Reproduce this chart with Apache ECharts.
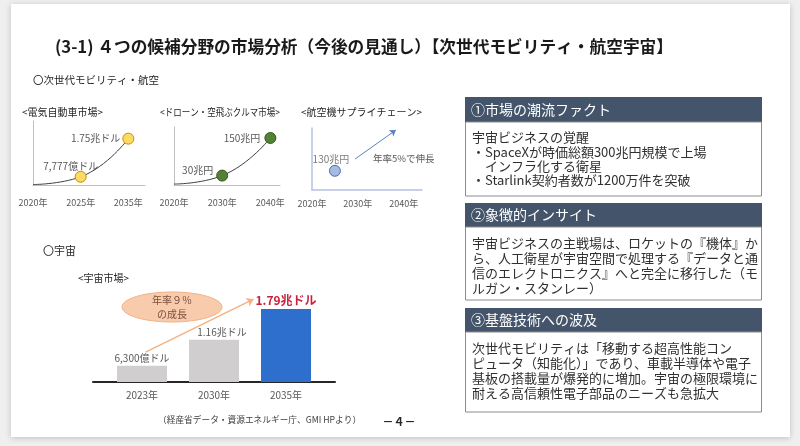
<!DOCTYPE html>
<html><head><meta charset="utf-8">
<script src="https://cdn.jsdelivr.net/npm/echarts@6/dist/echarts.min.js"></script>
<style>html,body{margin:0;padding:0;background:#efefef}#c{width:800px;height:446px}</style>
</head><body><div id="c"></div>
<script>
const FONT = '"Noto Sans CJK JP","Noto Sans",sans-serif';

// ---- data ----
const evCats = ['2020年', '2025年', '2035年'];
const evValues = [0.58, 0.7777, 1.75];          // 兆ドル
const evLabels = ['', '7,777億ドル', '1.75兆ドル'];

const droneCats = ['2020年', '2030年', '2040年'];
const droneValues = [3, 30, 150];               // 兆円
const droneLabels = ['', '30兆円', '150兆円'];

const airTicks = [2020, 2030, 2040];
const airPoint = [2025, 130];                   // 兆円
const airLabel = '130兆円';
const airArrow = [[2029.4, 210], [2038.3, 406]];
const airArrowText = '年率5%で伸長';

const spaceCats = ['2023年', '2030年', '2035年'];
const spaceValues = [0.63, 1.16, 1.79];         // 兆ドル
const spaceLabels = ['6,300億ドル', '1.16兆ドル', '1.79兆ドル'];
const spaceArrow = [[0.55, 0.91], [2.05, 1.99]];

const titleText = '(3-1) ４つの候補分野の市場分析（今後の見通し）【次世代モビリティ・航空宇宙】';
const box1Title = '①市場の潮流ファクト';
const box1Lines = ['宇宙ビジネスの覚醒', '・SpaceXが時価総額300兆円規模で上場', '　インフラ化する衛星', '・Starlink契約者数が1200万件を突破'];
const box2Title = '②象徴的インサイト';
const box2Lines = ['宇宙ビジネスの主戦場は、ロケットの『機体』か', 'ら、人工衛星が宇宙空間で処理する『データと通', '信のエレクトロニクス』へと完全に移行した（モ', 'ルガン・スタンレー）'];
const box3Title = '③基盤技術への波及';
const box3Lines = ['次世代モビリティは「移動する超高性能コン', 'ピュータ（知能化）」であり、車載半導体や電子', '基板の搭載量が爆発的に増加。宇宙の極限環境に', '耐える高信頼性電子部品のニーズも急拡大'];

// ---- helpers ----
function txt(text, x, y, size, opt) {
  opt = opt || {};
  return {
    type: 'text', x: x, y: y, z: 20, silent: true, scaleX: opt.scaleX || 1,
    style: {
      text: text, fill: opt.fill || '#262626', fontSize: size,
      fontWeight: opt.bold ? 'bold' : 'normal', fontFamily: FONT,
      align: opt.align || 'left', verticalAlign: 'middle'
    }
  };
}
function box(title, lines, hy, by, bh, lys) {
  const els = [
    { type: 'rect', z: 5, silent: true, shape: { x: 465, y: hy, width: 297, height: by - hy }, style: { fill: '#44546a' } },
    { type: 'rect', z: 5, silent: true, shape: { x: 465.5, y: by, width: 296, height: bh }, style: { fill: '#fff', stroke: '#8c8c8c', lineWidth: 1 } },
    txt(title, 471, (hy + by) / 2, 14, { fill: '#ffffff' })
  ];
  lines.forEach((l, i) => els.push(txt(l, 472, lys[i], 13, { fill: '#303030' })));
  return els;
}
function catFmt(cats) {
  return function (v) { return Number.isInteger(v) && cats[v] ? cats[v] : ''; };
}
const miniAxisLabel = { color: '#595959', fontSize: 9, fontFamily: FONT };

const graphics = [
  { type: 'rect', z: -10, silent: true, shape: { x: 11, y: 4, width: 779, height: 433 },
    style: { fill: '#ffffff', shadowBlur: 6, shadowColor: 'rgba(0,0,0,0.2)', shadowOffsetY: 1 } },
  txt(titleText, 55, 47, 16.7, { bold: true, fill: '#1a1a1a' }),
  txt('〇次世代モビリティ・航空', 33, 80, 10.5),
  txt('<電気自動車市場>', 22, 112, 10),
  txt('<ドローン・空飛ぶクルマ市場>', 160, 112, 10, { scaleX: 0.85 }),
  txt('<航空機サプライチェーン>', 301, 112, 10),
  txt(airArrowText, 373, 158, 9.5, { fill: '#595959' }),
  txt('〇宇宙', 43, 251, 11),
  txt('<宇宙市場>', 78, 278, 10),
  { type: 'ellipse', z: 10, silent: true, shape: { cx: 172, cy: 307, rx: 50, ry: 15 },
    style: { fill: '#f8cbad', stroke: '#f4b183', lineWidth: 1 } },
  txt('年率９％', 172, 300, 10, { align: 'center', fill: '#7b4f3a' }),
  txt('の成長', 172, 314, 10, { align: 'center', fill: '#7b4f3a' }),
  txt('（経産省データ・資源エネルギー庁、GMI HPより）', 158, 420, 8.7, { fill: '#404040' }),
  txt('－４－', 399, 422, 11, { align: 'center', bold: true, fill: '#262626' })
].concat(
  box(box1Title, box1Lines, 97, 122, 74, [137.5, 152.5, 166, 180]),
  box(box2Title, box2Lines, 203, 227, 73, [243, 258, 273, 288]),
  box(box3Title, box3Lines, 308, 332, 80, [348, 363, 378, 393])
);

const noSplit = { show: false };
const option = {
  animation: false,
  textStyle: { fontFamily: FONT },
  graphic: graphics,
  grid: [
    { left: 33, top: 121, width: 112, height: 64.7, outerBoundsMode: 'none' },
    { left: 174, top: 127, width: 106, height: 58, outerBoundsMode: 'none' },
    { left: 312, top: 128, width: 110, height: 62, outerBoundsMode: 'none' },
    { left: 106, top: 298.7, width: 216, height: 83.3, outerBoundsMode: 'none' },
    { left: 93, top: 298.7, width: 242, height: 83.3, outerBoundsMode: 'none' }
  ],
  xAxis: [
    { gridIndex: 0, type: 'value', min: 0, max: 2.35, interval: 1, splitLine: noSplit, axisTick: { show: false },
      axisLine: { show: true, lineStyle: { color: '#bfbfbf' } },
      axisLabel: Object.assign({ margin: 12, formatter: catFmt(evCats) }, miniAxisLabel) },
    { gridIndex: 1, type: 'value', min: 0, max: 2.2, interval: 1, splitLine: noSplit, axisTick: { show: false },
      axisLine: { show: true, lineStyle: { color: '#bfbfbf' } },
      axisLabel: Object.assign({ margin: 13, formatter: catFmt(droneCats) }, miniAxisLabel) },
    { gridIndex: 2, type: 'value', min: 2020, max: 2044, interval: 10, splitLine: noSplit, axisTick: { show: false },
      axisLine: { show: true, lineStyle: { color: '#b4c2e0', width: 1.5 } },
      axisLabel: Object.assign({ margin: 9, formatter: v => airTicks.indexOf(v) >= 0 ? v + '年' : '' }, miniAxisLabel) },
    { gridIndex: 3, type: 'category', data: spaceCats, axisLine: { show: false }, axisTick: { show: false },
      axisLabel: { color: '#595959', fontSize: 10, margin: 8, fontFamily: FONT } },
    { gridIndex: 3, type: 'value', min: 0, max: 3, show: false },
    { gridIndex: 4, type: 'category', data: spaceCats, axisTick: { show: false }, axisLabel: { show: false },
      axisLine: { show: true, lineStyle: { color: '#262626', width: 2 } } }
  ],
  yAxis: [
    { gridIndex: 0, type: 'value', min: 0.55, max: 2.2, splitLine: noSplit, axisLabel: { show: false }, axisTick: { show: false },
      axisLine: { show: true, lineStyle: { color: '#bfbfbf' } } },
    { gridIndex: 1, type: 'value', min: 0, max: 185, splitLine: noSplit, axisLabel: { show: false }, axisTick: { show: false },
      axisLine: { show: true, lineStyle: { color: '#bfbfbf' } } },
    { gridIndex: 2, type: 'value', min: 0, max: 420, splitLine: noSplit, axisLabel: { show: false }, axisTick: { show: false },
      axisLine: { show: true, lineStyle: { color: '#b4c2e0', width: 1.5 } } },
    { gridIndex: 3, type: 'value', min: 0.3, max: 2.0, show: false },
    { gridIndex: 4, type: 'value', show: false }
  ],
  series: [
    { type: 'line', xAxisIndex: 0, yAxisIndex: 0, smooth: 0.5, silent: true,
      lineStyle: { color: '#404040', width: 1 }, symbolSize: 11,
      itemStyle: { color: '#ffd966', borderColor: '#bf9000', borderWidth: 1 },
      label: { show: true, color: '#595959', fontSize: 10, formatter: p => evLabels[p.dataIndex] },
      data: evValues.map((v, i) => ({
        value: [i, v], symbol: i === 0 ? 'none' : 'circle',
        label: i === 1 ? { position: 'top', offset: [-10, 5] } : { position: 'left', distance: 2 }
      })) },
    { type: 'line', xAxisIndex: 1, yAxisIndex: 1, smooth: 0.5, silent: true,
      lineStyle: { color: '#404040', width: 1 }, symbolSize: 11,
      itemStyle: { color: '#548235', borderColor: '#385723', borderWidth: 1 },
      label: { show: true, color: '#595959', fontSize: 10, formatter: p => droneLabels[p.dataIndex] },
      data: droneValues.map((v, i) => ({
        value: [i, v], symbol: i === 0 ? 'none' : 'circle',
        label: i === 1 ? { position: 'left', distance: 3, offset: [0, -5] } : { position: 'left', distance: 4 }
      })) },
    { type: 'scatter', xAxisIndex: 2, yAxisIndex: 2, silent: true, symbolSize: 11,
      itemStyle: { color: '#8faadc', borderColor: '#2f5597', borderWidth: 1 },
      label: { show: true, position: 'top', offset: [-4, 4], color: '#595959', fontSize: 10, formatter: airLabel },
      data: [airPoint] },
    { type: 'lines', coordinateSystem: 'cartesian2d', xAxisIndex: 2, yAxisIndex: 2, silent: true,
      symbol: ['none', 'arrow'], symbolSize: 6,
      lineStyle: { color: '#5b7fc0', width: 1, opacity: 1 },
      data: [{ coords: airArrow }] },
    { type: 'bar', xAxisIndex: 3, yAxisIndex: 3, barWidth: 50, silent: true,
      label: { show: true, position: 'top', distance: 3, color: '#595959', fontSize: 10,
        formatter: p => spaceLabels[p.dataIndex] },
      data: spaceValues.map((v, i) => ({
        value: v,
        itemStyle: { color: i === 2 ? '#2e6fce' : '#d0cece' },
        label: i === 2 ? { color: '#c9213c', fontWeight: 'bold', fontSize: 12 } : (i === 1 ? { offset: [8, 0] } : {})
      })) },
    { type: 'lines', coordinateSystem: 'cartesian2d', xAxisIndex: 4, yAxisIndex: 3, silent: true,
      symbol: ['none', 'arrow'], symbolSize: 7,
      lineStyle: { color: '#f4b183', width: 1.5, opacity: 1 },
      data: [{ coords: spaceArrow }] }
  ]
};
const chart = echarts.init(document.getElementById('c'));
chart.setOption(option);
</script>
</body></html>
